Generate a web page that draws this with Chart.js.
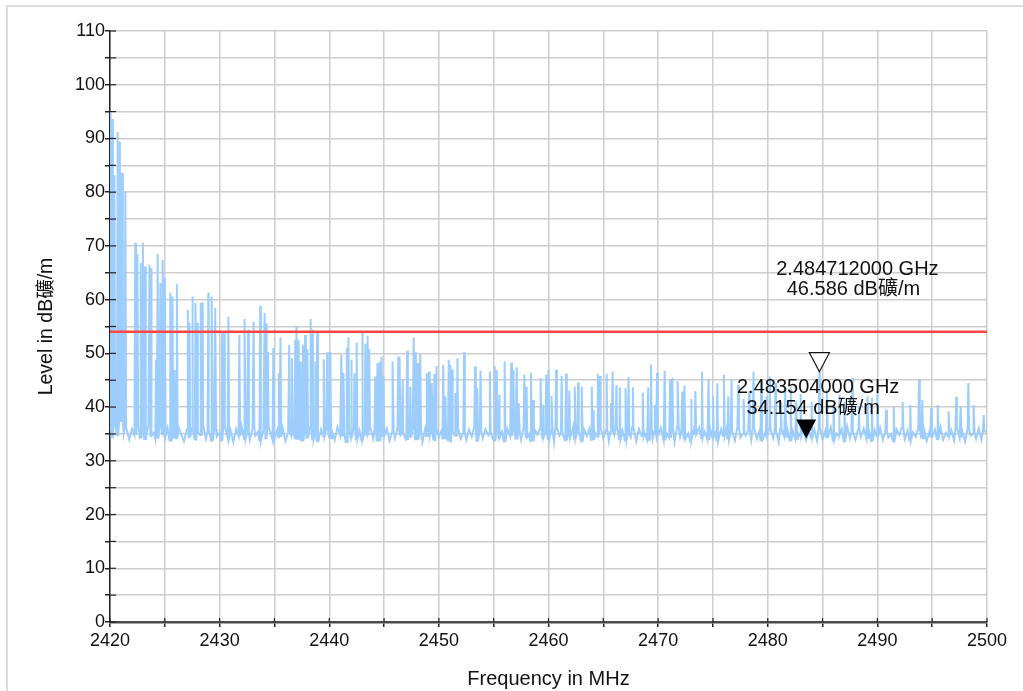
<!DOCTYPE html>
<html>
<head>
<meta charset="utf-8">
<script src="https://cdn.jsdelivr.net/npm/chart.js@4/dist/chart.umd.min.js"></script>
<style>
  html, body { margin: 0; padding: 0; background: #fff; overflow: hidden; }
  #frame { position: absolute; left: 6px; top: 5px; width: 1040px; height: 720px; border: 2px solid #dcdcdc; }
  #myChart { position: absolute; left: 0; top: 0; }
</style>
</head>
<body>
<div id="frame"></div>
<canvas id="myChart" width="1023" height="691"></canvas>
<script>
// noise floor, one reading every 0.25 MHz from 2420 MHz
const baseStart = 2420;
const baseStep = 0.25;
const baseLevels = [
  35.8,34.2,36.9,34.6,37.4,35.1,36.2,34.0,35.9,34.8,36.5,34.3,35.6,33.9,36.8,34.7,35.2,34.1,36.4,35.0,
  34.6,36.1,33.8,35.7,34.2,36.3,34.9,33.6,35.8,34.4,36.0,33.9,35.3,34.8,36.6,34.1,35.5,33.7,35.9,34.5,
  35.2,33.8,36.2,34.3,35.6,33.5,35.9,34.6,36.4,34.0,35.1,33.9,36.0,34.7,35.4,33.6,35.8,34.2,36.3,34.5,
  33.9,35.7,34.4,36.1,33.7,35.3,34.8,36.5,34.1,35.6,33.8,35.9,34.3,36.2,34.0,35.1,33.6,35.8,34.6,36.0,
  34.2,35.5,33.9,36.3,34.7,35.0,33.5,35.8,34.4,36.1,34.0,35.6,33.8,35.2,34.9,36.4,34.1,35.7,33.6,35.9,
  34.5,36.0,33.7,35.4,34.2,36.2,34.8,35.1,33.9,35.8,34.3,36.5,34.0,35.6,33.5,35.9,34.6,35.3,33.8,36.1,
  34.4,35.7,34.0,36.3,33.6,35.5,34.7,36.0,34.1,35.2,33.9,35.8,34.5,36.4,33.7,35.6,34.2,35.9,34.8,35.1,
  33.8,36.2,34.3,35.4,33.6,35.9,34.6,36.1,34.0,35.5,33.9,36.3,34.4,35.0,33.7,35.8,34.9,36.0,34.2,35.3,
  34.0,35.6,33.5,36.2,34.7,35.1,33.8,35.9,34.3,36.4,34.1,35.5,33.6,35.8,34.6,36.0,33.9,35.2,34.5,36.1,
  34.2,35.7,33.7,35.4,34.8,36.3,34.0,35.6,33.8,35.0,34.4,36.2,33.6,35.9,34.6,35.3,33.9,36.0,34.1,35.5,
  34.7,36.1,33.8,35.2,34.3,35.9,33.5,36.4,34.5,35.6,34.0,35.1,33.7,35.8,34.9,36.2,34.2,35.4,33.9,36.0,
  34.4,35.3,33.6,35.9,34.6,36.1,34.0,35.5,33.8,36.3,34.3,35.0,34.7,35.8,33.9,36.2,34.1,35.6,33.7,35.2,
  34.8,36.0,34.2,35.4,33.5,35.9,34.5,36.3,33.8,35.7,34.1,35.2,34.6,36.1,33.9,35.5,34.3,35.8,33.7,36.0,
  34.0,35.6,34.4,36.2,33.8,35.1,34.7,35.9,33.6,36.4,34.2,35.3,33.9,35.8,34.5,36.0,34.1,35.4,33.7,35.7,
  34.6,36.1,33.9,35.5,34.3,35.0,33.6,35.8,34.8,36.2,34.0,35.6,33.8,35.3,34.5,36.0,34.2,35.9,33.7,35.4,
  34.4,35.8,34.0,36.3,33.9,35.2,34.6,35.7,33.8,36.1,34.3,35.5,33.6,35.9,34.7,35.0,34.1,36.0,33.9,35.6,
  35.2
];

// emission peaks (MHz, dBµV/m)
const spikeFreqs = [
  2420.05,2420.2,2420.4,2420.7,2420.9,2421.1,2421.4,2422.3,2422.5,2422.8,
  2423.0,2423.2,2423.6,2423.75,2424.2,2424.35,2424.6,2424.8,2425.0,2425.5,
  2425.7,2425.9,2426.1,2427.1,2427.25,2427.5,2427.8,2427.95,2428.3,2428.45,
  2428.97,2429.3,2429.6,2430.2,2430.4,2430.8,2431.8,2432.3,2432.6,2433.1,
  2433.7,2434.1,2434.25,2434.4,2434.9,2435.4,2435.55,2436.35,2436.6,2436.9,
  2437.05,2437.2,2437.4,2437.6,2437.8,2438.0,2438.3,2438.5,2438.75,2438.9,
  2439.5,2439.8,2440.1,2441.1,2441.3,2441.6,2441.75,2442.0,2442.3,2442.5,
  2443.0,2443.3,2443.5,2443.65,2444.2,2444.4,2444.6,2444.8,2444.95,2445.8,
  2446.3,2446.45,2446.7,2447.1,2447.4,2447.7,2447.9,2448.1,2448.3,2448.9,
  2449.1,2449.35,2449.6,2449.75,2450.4,2450.6,2450.9,2451.05,2451.2,2451.5,
  2451.7,2452.3,2453.3,2453.5,2453.8,2454.65,2455.1,2455.3,2455.5,2456.0,
  2456.6,2456.8,2457.1,2457.3,2457.8,2458.0,2458.4,2458.6,2459.3,2459.5,
  2459.8,2460.0,2460.3,2460.7,2461.2,2461.6,2461.9,2462.4,2462.7,2463.05,
  2463.95,2464.1,2464.5,2464.7,2465.3,2465.7,2465.85,2466.2,2466.5,2467.05,
  2467.3,2467.7,2468.6,2469.1,2469.35,2469.7,2469.9,2470.6,2471.1,2471.3,
  2471.8,2472.2,2472.4,2473.0,2473.4,2474.0,2474.6,2475.0,2475.4,2476.0,
  2476.4,2476.7,2477.3,2477.8,2478.3,2478.7,2479.4,2479.9,2480.2,2480.7,
  2481.2,2481.6,2482.1,2482.6,2483.0,2484.0,2484.712,2485.4,2486.0,2486.5,
  2487.0,2487.7,2488.3,2489.1,2489.5,2490.0,2490.8,2491.5,2492.3,2493.0,
  2493.8,2494.1,2494.9,2495.5,2496.5,2497.2,2497.6,2498.3,2498.8,2499.7
];
const spikePeaks = [
  95.0,93.6,83.2,91.2,89.4,83.6,80.1,70.6,68.5,66.8,
  70.6,66.2,66.5,65.9,48.8,68.5,63.1,67.4,64.1,61.3,
  60.6,46.9,62.9,58.1,55.7,60.6,59.4,55.7,59.4,59.5,
  61.3,60.6,58.5,54.1,54.0,56.8,53.4,56.4,54.4,55.9,
  58.8,57.5,55.6,50.3,51.0,46.3,53.0,51.6,49.1,52.6,
  55.0,52.5,48.5,51.6,53.4,50.7,56.4,54.4,48.5,54.1,
  48.9,50.2,50.3,49.7,46.4,51.0,53.0,48.8,46.3,52.0,
  53.9,51.8,53.3,50.7,45.7,48.2,48.5,49.4,45.7,48.5,
  49.4,49.3,45.1,50.5,43.8,53.0,50.2,48.2,49.9,46.3,
  46.6,44.5,46.2,47.7,47.9,42.0,48.8,47.9,47.0,42.6,
  49.1,50.2,47.6,43.5,46.8,46.6,47.6,46.9,42.3,48.5,
  48.3,46.9,47.4,40.7,46.0,43.8,46.4,41.3,45.4,40.4,
  46.0,47.0,42.1,47.0,45.8,46.2,43.1,43.8,44.6,43.8,
  43.8,39.5,46.2,45.8,46.2,40.7,46.6,44.1,43.7,43.5,
  45.6,43.7,42.7,43.7,47.9,40.4,46.4,46.8,45.1,45.4,
  44.8,42.9,44.0,41.5,43.0,46.6,45.1,42.0,44.5,46.0,
  42.0,45.1,44.1,41.5,43.0,46.6,44.8,42.0,45.7,44.5,
  41.0,43.5,43.8,41.2,42.5,41.0,46.586,43.2,40.5,42.3,
  41.0,45.4,40.2,42.0,41.7,42.6,39.5,40.0,41.0,40.4,
  45.2,41.3,39.8,40.4,39.2,41.9,40.1,44.5,40.4,38.5
];

const limitLevel = 54;

// marker readouts
const markerFreqs = [2484.712, 2483.504];
const markerLevels = [46.586, 34.154];
const markerLabels = [
  ['2.484712000 GHz', '46.586 dB礦/m'],
  ['2.483504000 GHz', '34.154 dB礦/m']
];

// build the trace: noise floor plus narrow peaks
const trace = baseLevels.map((v, i) => ({ x: baseStart + i * baseStep, y: v }));
spikeFreqs.forEach((f, i) => {
  const k = Math.min(baseLevels.length - 1, Math.round((f - baseStart) / baseStep));
  const floor = baseLevels[k];
  if (f - 0.07 > baseStart) trace.push({ x: f - 0.07, y: floor });
  trace.push({ x: f, y: spikePeaks[i] });
  trace.push({ x: f + 0.07, y: floor });
});
trace.sort((a, b) => a.x - b.x);

const FONT = "'Liberation Sans', Arial, 'Noto Sans CJK SC', sans-serif";

const markerPlugin = {
  id: 'markers',
  afterDatasetsDraw(chart) {
    const ctx = chart.ctx;
    const xs = chart.scales.x, ys = chart.scales.y;
    ctx.save();
    // inner halves of the tick marks
    ctx.strokeStyle = '#222';
    ctx.lineWidth = 1.2;
    ys.ticks.forEach(t => {
      const py = ys.getPixelForValue(t.value);
      ctx.beginPath(); ctx.moveTo(xs.left, py); ctx.lineTo(xs.left + 6, py); ctx.stroke();
    });
    xs.ticks.forEach(t => {
      const px = xs.getPixelForValue(t.value);
      ctx.beginPath(); ctx.moveTo(px, ys.bottom); ctx.lineTo(px, ys.bottom - 4); ctx.stroke();
    });
    // marker triangles
    markerFreqs.forEach((f, i) => {
      const px = xs.getPixelForValue(f);
      const py = ys.getPixelForValue(markerLevels[i]);
      ctx.beginPath();
      ctx.moveTo(px, py);
      ctx.lineTo(px - 10, py - 19);
      ctx.lineTo(px + 10, py - 19);
      ctx.closePath();
      if (i === 0) {
        ctx.fillStyle = '#fff';
        ctx.fill();
        ctx.strokeStyle = '#111';
        ctx.lineWidth = 1.2;
        ctx.stroke();
      } else {
        ctx.fillStyle = '#000';
        ctx.fill();
      }
      ctx.font = '20px ' + FONT;
      ctx.fillStyle = '#111';
      ctx.textAlign = 'center';
      ctx.textBaseline = 'middle';
      if (i === 0) {
        ctx.fillText(markerLabels[i][0], px + 38, py - 102);
        ctx.fillText(markerLabels[i][1], px + 34, py - 82);
      } else {
        ctx.fillText(markerLabels[i][0], px + 12, py - 51);
        ctx.fillText(markerLabels[i][1], px + 7, py - 30);
      }
    });
    ctx.restore();
  }
};

const config = {
  type: 'line',
  data: {
    datasets: [
      {
        label: 'Limit',
        data: [{ x: 2420, y: limitLevel }, { x: 2500, y: limitLevel }],
        borderColor: '#ff4545',
        borderWidth: 2.5,
        pointRadius: 0
      },
      {
        label: 'Level',
        data: trace,
        borderColor: '#9ccdfc',
        borderWidth: 2,
        pointRadius: 0,
        tension: 0
      }
    ]
  },
  options: {
    responsive: false,
    animation: false,
    layout: { padding: { left: 33, top: 31, right: 36, bottom: 0 } },
    plugins: { legend: { display: false }, tooltip: { enabled: false } },
    scales: {
      x: {
        type: 'linear',
        min: 2420,
        max: 2500,
        afterFit: s => { s.height = 69; },
        border: { color: '#4a4a4a', width: 2.5 },
        grid: { color: '#cdcdcd', lineWidth: 1.5, tickLength: 5, tickColor: '#222' },
        ticks: {
          stepSize: 5,
          autoSkip: false,
          maxRotation: 0,
          padding: 3,
          color: '#111',
          font: { family: FONT, size: 18 },
          callback: v => (v % 10 === 0 ? String(v) : '')
        },
        title: {
          display: true,
          text: 'Frequency in MHz',
          color: '#111',
          font: { family: FONT, size: 20 },
          padding: { top: 4, bottom: 0 }
        }
      },
      y: {
        min: 0,
        max: 110,
        afterFit: s => { s.width = 77; },
        border: { color: '#222', width: 1.5 },
        grid: { color: '#cdcdcd', lineWidth: 1.5, tickLength: 5, tickColor: '#222' },
        ticks: {
          stepSize: 5,
          autoSkip: false,
          padding: 0,
          color: '#111',
          font: { family: FONT, size: 18 },
          callback: v => (v % 10 === 0 ? String(v) : '')
        },
        title: {
          display: true,
          text: 'Level in dB礦/m',
          color: '#111',
          font: { family: FONT, size: 19.5 },
          padding: { top: 2, bottom: 4 }
        }
      }
    }
  },
  plugins: [markerPlugin]
};

const myChart = new Chart(document.getElementById('myChart'), config);
</script>
</body>
</html>
